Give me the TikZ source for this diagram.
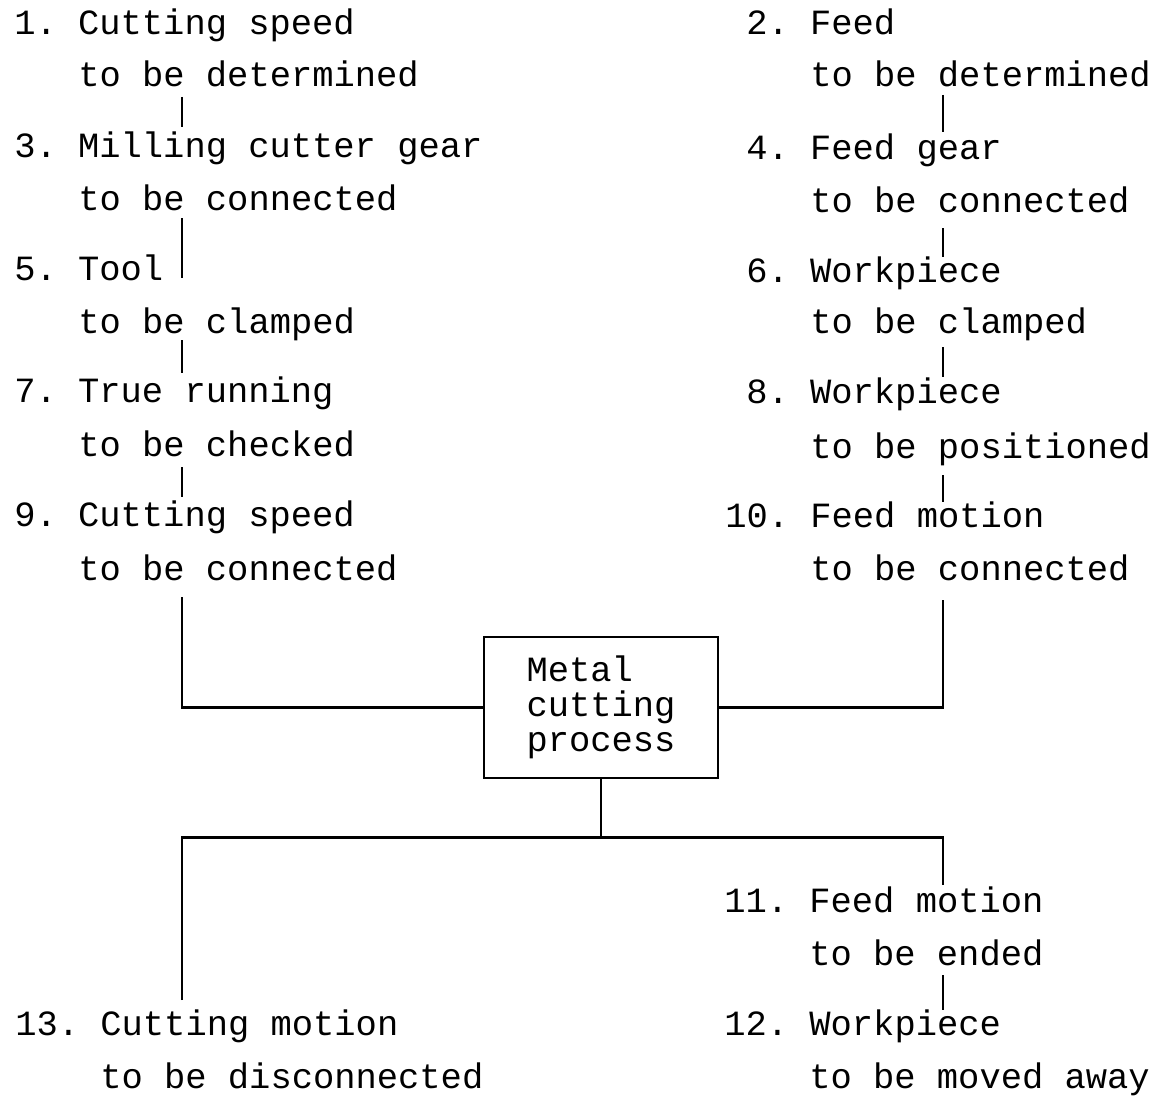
\documentclass[tikz,border=0pt]{standalone}
\usepackage{fontspec}
\newfontfamily\tw{Liberation Mono}
\usetikzlibrary{calc}
\begin{document}
\frenchspacing
\begin{tikzpicture}[x=0.75pt,y=-0.75pt,
  txt/.style={font=\tw\fontsize{26.6}{30}\selectfont\frenchspacing, inner sep=0pt, anchor=base west},
  link/.style={line width=1.6pt},
  box/.style={draw, line width=2.2pt, inner sep=0pt, minimum width=175.5pt, minimum height=105.75pt,
    align=left, font=\tw\fontsize{26.6}{26.25}\selectfont}
  ]
\useasboundingbox (0,0) rectangle (1159,1095);
\coordinate (cl) at (182,0);
\coordinate (cr) at (943,0);
% left column
\node[txt] (n1) at (14,35) {1. Cutting speed};
\node[txt] (n1b) at (78,87) {to be determined};
\node[txt] (n3) at (14,157) {3. Milling cutter gear};
\node[txt] (n3b) at (78,210) {to be connected};
\node[txt] (n5) at (14,280) {5. Tool};
\node[txt] (n5b) at (78,333) {to be clamped};
\node[txt] (n7) at (14,402) {7. True running};
\node[txt] (n7b) at (78,456) {to be checked};
\node[txt] (n9) at (14,526) {9. Cutting speed};
\node[txt] (n9b) at (78,580) {to be connected};
% right column
\node[txt] (n2) at (746,35) {2. Feed};
\node[txt] (n2b) at (810,87) {to be determined};
\node[txt] (n4) at (746,160) {4. Feed gear};
\node[txt] (n4b) at (810,212) {to be connected};
\node[txt] (n6) at (746,282) {6. Workpiece};
\node[txt] (n6b) at (810,333) {to be clamped};
\node[txt] (n8) at (746,403) {8. Workpiece};
\node[txt] (n8b) at (810,458) {to be positioned};
\node[txt] (n10) at (725,527) {10. Feed motion};
\node[txt] (n10b) at (810,580) {to be connected};
% bottom
\node[txt] (n11) at (724,912) {11. Feed motion};
\node[txt] (n11b) at (809,965) {to be ended};
\node[txt] (n12) at (724,1035) {12. Workpiece};
\node[txt] (n12b) at (809,1088) {to be moved away};
\node[txt] (n13) at (15,1035) {13. Cutting motion};
\node[txt] (n13b) at (100,1088) {to be disconnected};
% central box
\node[box] (box) at (601,707.5) {Metal\\cutting\\process};
% left connectors
\draw[link] ($(n1b.base -| cl)+(0,10)$) -- ($(n3.base -| cl)+(0,-30)$);
\draw[link] ($(n3b.base -| cl)+(0,8)$) -- ($(n5.base -| cl)+(0,-2)$);
\draw[link] ($(n5b.base -| cl)+(0,7)$) -- ($(n7.base -| cl)+(0,-29)$);
\draw[link] ($(n7b.base -| cl)+(0,11)$) -- ($(n9.base -| cl)+(0,-29)$);
\draw[link] ($(n9b.base -| cl)+(0,17)$) |- (box.west);
% right connectors
\draw[link] ($(n2b.base -| cr)+(0,8)$) -- ($(n4.base -| cr)+(0,-28)$);
\draw[link] ($(n4b.base -| cr)+(0,16)$) -- ($(n6.base -| cr)+(0,-25)$);
\draw[link] ($(n6b.base -| cr)+(0,14)$) -- ($(n8.base -| cr)+(0,-26)$);
\draw[link] ($(n8b.base -| cr)+(0,17)$) -- ($(n10.base -| cr)+(0,-25)$);
\draw[link] ($(n10b.base -| cr)+(0,20)$) |- (box.east);
% bottom connectors
\draw[link] (box.south) -- ++(0,58) coordinate (bj);
\draw[link] ($(n13.base -| cl)+(0,-35)$) -- (bj -| cl) -- (bj -| cr) -- ($(n11.base -| cr)+(0,-27)$);
\draw[link] ($(n11b.base -| cr)+(0,10)$) -- ($(n12.base -| cr)+(0,-25)$);
\end{tikzpicture}
\end{document}
